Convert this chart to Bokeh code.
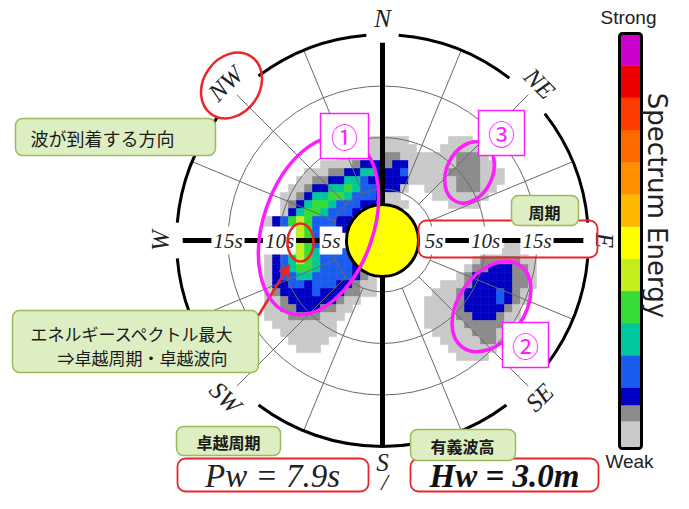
import math
from bokeh.plotting import figure
from bokeh.models import Range1d, BoxAnnotation, Label, Arrow, NormalHead
from bokeh.embed import file_html
from bokeh.resources import INLINE
from bokeh.core.properties import value

# ---------------- data ----------------
# colour scale of spectrum energy, weak -> strong
CBAR_COLORS = ["#c9c9c9", "#8c8c8c", "#0000c4", "#1a5cf0", "#00c89c", "#36dc36",
               "#c4ee1e", "#ffff00", "#ffb800", "#ff9000", "#ff6a00", "#ff3c00",
               "#ee0000", "#cc00cc"]
CBAR_SPAN = [0.85, 0.5, 0.55, 1, 1, 1, 1, 1, 1, 1, 1, 1, 1, 1]
CBAR_TOP_LABEL = "Strong"
CBAR_BOTTOM_LABEL = "Weak"
CBAR_TITLE = "Spectrum Energy"

# energy level codes used in the spectrum cells (a = weakest)
LEVEL_CODES = "abcdefg"

# spectrum cells: (row, first column, level codes)
SPEC_MAIN = [
    (1, 14, "aaaaa"),
    (2, 12, "aaaaaaaa"),
    (3, 10, "aaaaaabbaa"),
    (4, 8, "aaaabcccbcca"),
    (5, 6, "aaabbcceecccda"),
    (6, 5, "aabbcceedccccca"),
    (7, 4, "aabcceefeddccca"),
    (8, 3, "aabceeffedddcaa"),
    (9, 3, "abceffedddcc"),
    (9, 16, "aaa"),
    (10, 3, "aceffedddc"),
    (11, 1, "acdfgfdddcc"),
    (12, 1, "acdfgfdddcc"),
    (13, 1, "acdfgfddd"),
    (14, 1, "acdfgfddd"),
    (15, 1, "acdfgfeddddc"),
    (16, 1, "acdegfeddddca"),
    (17, 1, "acdeffeddddcba"),
    (18, 1, "acddeedddddcba"),
    (19, 1, "accddcdddccbaa"),
    (20, 1, "abccccdcccbbaa"),
    (21, 1, "aabccccccbaa"),
    (22, 1, "aabbcccbbaa"),
    (23, 1, "aaabbbbaaa"),
    (24, 2, "aaaaaaaa"),
    (25, 3, "aaaaaaa"),
    (26, 4, "aaaaa"),
    (27, 5, "aaa"),
]
SPEC_NE = [
    (1, 24, "aaa"),
    (2, 23, "aaaaa"),
    (3, 20, "aaaaabbba"),
    (4, 20, "aaaaabbbaa"),
    (5, 20, "aaaabbbbaaa"),
    (6, 20, "aaaaabbbaaa"),
    (7, 21, "aaaabbbaa"),
    (8, 22, "aaaaaaa"),
    (9, 24, "aaaa"),
]
SPEC_SE = [
    (14, 31, "aa"),
    (15, 28, "aaaaaa"),
    (16, 27, "abbbbbaa"),
    (17, 26, "abbcccbba"),
    (18, 25, "abcccccbba"),
    (19, 23, "aaabcccccbba"),
    (20, 22, "aaabccccdcba"),
    (21, 21, "aaaabccccdcba"),
    (22, 21, "aaaabcccccba"),
    (23, 21, "aaaabbcccbaa"),
    (24, 21, "aaaaabbbbba"),
    (25, 22, "aaaaabbbaa"),
    (26, 23, "aaaaabba"),
    (27, 24, "aaaaaa"),
    (28, 25, "aaaa"),
]

PERIOD_TICKS = [5, 10, 15]
PERIOD_LABELS = ["5s", "10s", "15s"]
PERIOD_MAX = 20
DIR_NAMES = ["N", "NE", "E", "SE", "S", "SW", "W", "NW"]
DIR_BEARINGS = [0, 45, 90, 135, 180, 225, 270, 315]
GRID_BEARINGS = [22.5, 45, 67.5, 112.5, 135, 157.5, 202.5, 225, 247.5, 292.5, 315, 337.5]
PEAK_PERIOD = 7.9
SIG_HEIGHT = 3.0

# ---------------- layout helpers ----------------
H = 509


def Y(y):
    return H - y


CX, CY = 382, Y(240)
PX_PER_S = 10.3


def R(t):
    return PX_PER_S * t


CELL, GX0, GY0 = 8, 256, 128
JP = "Noto Sans CJK JP"
SERIF = "Liberation Serif"
MAG = "#ff1cff"
RED = "#e8262a"

p = figure(width=673, height=493, x_range=Range1d(0, 673), y_range=Range1d(16, 509),
           output_backend="svg", toolbar_location=None, min_border=0,
           x_axis_type=None, y_axis_type=None)
p.grid.visible = False
p.outline_line_color = None
p.background_fill_color = "white"
p.border_fill_color = "white"

# ---- spectrum cells ----
xs, ys, cs = [], [], []
for blob in (SPEC_MAIN, SPEC_NE, SPEC_SE):
    for row, col0, codes in blob:
        for k, ch in enumerate(codes):
            lvl = LEVEL_CODES.index(ch)
            xs.append(GX0 + (col0 + k + 0.5) * CELL)
            ys.append(Y(GY0 + (row + 0.5) * CELL))
            cs.append(CBAR_COLORS[lvl])
p.rect(xs, ys, width=CELL, height=CELL, fill_color=cs, line_color=cs, line_width=0.6)

# ---- grid rings and radial lines ----
p.circle(x=[CX] * len(PERIOD_TICKS), y=[CY] * len(PERIOD_TICKS),
         radius=[R(t) for t in PERIOD_TICKS], fill_color=None,
         line_color="#6a6a6a", line_width=1)
b = [math.radians(v) for v in GRID_BEARINGS]
p.segment(x0=[CX + R(PERIOD_TICKS[0]) * math.sin(v) for v in b],
          y0=[CY + R(PERIOD_TICKS[0]) * math.cos(v) for v in b],
          x1=[CX + R(PERIOD_MAX) * math.sin(v) for v in b],
          y1=[CY + R(PERIOD_MAX) * math.cos(v) for v in b],
          line_color="#6a6a6a", line_width=1)

# ---- outer ring with gaps at compass labels ----
gap = {0: 4.5, 45: 7, 90: 5, 135: 8, 225: 8, 270: 5, 315: 8}
gb = sorted(gap)
starts, ends = [], []
for i, g0 in enumerate(gb):
    g1 = gb[(i + 1) % len(gb)]
    if g1 <= g0:
        g1 += 360
    b_from = g0 + gap[g0]
    b_to = g1 - gap[g1 % 360]
    starts.append(math.radians(90 - b_to))
    ends.append(math.radians(90 - b_from))
p.arc(x=[CX] * len(starts), y=[CY] * len(starts), radius=R(PERIOD_MAX),
      start_angle=starts, end_angle=ends, line_color="black", line_width=3)

# ---- N-S and W-E axes ----
p.segment(x0=[CX], y0=[CY + R(19.2)], x1=[CX], y1=[CY - R(19.9)],
          line_color="black", line_width=5)
p.segment(x0=[CX - R(19.4), CX + R(4.5)], y0=[CY, CY],
          x1=[CX - R(4.5), CX + R(19.5)], y1=[CY, CY],
          line_color="black", line_width=5)

# ---- yellow centre ----
p.circle(x=[CX], y=[CY], radius=36, fill_color="#ffff00", line_color="black", line_width=3)

# ---- compass labels ----
lx, ly, la = [], [], []
for name, brg in zip(DIR_NAMES, DIR_BEARINGS):
    rb = math.radians(brg)
    lx.append(CX + R(21.55) * math.sin(rb))
    ly.append(CY + R(21.55) * math.cos(rb))
    if 90 < brg < 270:
        la.append(math.radians(180 - brg))
    else:
        la.append(math.radians(-brg))
p.text(lx, ly, text=DIR_NAMES, angle=la, text_font=value(SERIF), text_font_style="italic",
       text_font_size="25px", text_align="center", text_baseline="middle", text_color="#222222")
p.text([CX + 2], [Y(481)], text=["/"], text_font=value(SERIF), text_font_style="italic",
       text_font_size="24px", text_align="center", text_baseline="middle", text_color="#222222")

# ---- period labels ----
for side in (-1, 1):
    for t, lab in zip(PERIOD_TICKS, PERIOD_LABELS):
        p.add_layout(Label(x=CX + side * R(t), y=CY, text=lab, text_font=SERIF,
                           text_font_style="italic", text_font_size="21px",
                           text_align="center", text_baseline="middle",
                           text_color="#222222", background_fill_color="white",
                           padding=2))

# ---- colour bar ----
tot = sum(CBAR_SPAN)
bar_top, bar_bot = Y(33), Y(448)
acc = 0.0
qb, qt = [], []
for s in CBAR_SPAN:
    qb.append(bar_bot + (bar_top - bar_bot) * acc / tot)
    acc += s
    qt.append(bar_bot + (bar_top - bar_bot) * acc / tot)
p.quad(left=620, right=640, bottom=qb, top=qt, fill_color=CBAR_COLORS,
       line_color=CBAR_COLORS, line_width=0.5)
p.add_layout(BoxAnnotation(left=619, right=641, bottom=bar_bot, top=bar_top,
                           fill_alpha=0, line_color="black", line_alpha=1,
                           line_width=3, border_radius=3))
p.add_layout(Label(x=628, y=Y(17), text=CBAR_TOP_LABEL, text_font="Liberation Sans",
                   text_font_size="19px", text_align="center", text_baseline="middle",
                   text_color="#222222"))
p.add_layout(Label(x=629, y=Y(461), text=CBAR_BOTTOM_LABEL, text_font="Liberation Sans",
                   text_font_size="19px", text_align="center", text_baseline="middle",
                   text_color="#222222"))
p.add_layout(Label(x=656, y=Y(205), text=CBAR_TITLE, angle=-math.pi / 2,
                   text_font="DejaVu Sans", text_font_size="26px", text_align="center",
                   text_baseline="middle", text_color="#222222"))

# ---- red boxes ----
def red_box(l, r, t, bt, fill=None):
    p.add_layout(BoxAnnotation(left=l, right=r, top=Y(t), bottom=Y(bt),
                               fill_color=fill if fill else "white",
                               fill_alpha=1 if fill else 0,
                               line_color=RED, line_alpha=1, line_width=1.8,
                               border_radius=8))


red_box(418, 597, 220, 257)
red_box(177, 368, 458, 491, "white")
red_box(410, 598, 458, 491, "white")
p.add_layout(Label(x=272, y=Y(475), text=f"Pw = {PEAK_PERIOD}s", text_font=SERIF,
                   text_font_style="italic", text_font_size="33px", text_align="center",
                   text_baseline="middle", text_color="#222222"))
p.add_layout(Label(x=504, y=Y(475), text=f"Hw = {SIG_HEIGHT:.1f}m", text_font=SERIF,
                   text_font_style="bold italic", text_font_size="33px", text_align="center",
                   text_baseline="middle", text_color="#111111"))

# ---- green call-out boxes ----
def green_box(l, r, t, bt):
    p.add_layout(BoxAnnotation(left=l, right=r, top=Y(t), bottom=Y(bt),
                               fill_color="#ddeec2", fill_alpha=1, line_color="#9bbb59",
                               line_alpha=1, line_width=1.5, border_radius=7))


def jp_label(x, y, txt, size="17px", align="left", bold=False):
    p.add_layout(Label(x=x, y=Y(y), text=txt, text_font=JP, text_font_size=size,
                       text_font_style="bold" if bold else "normal",
                       text_align=align, text_baseline="middle", text_color="#1a1a1a"))


green_box(15, 215, 118, 155)
jp_label(30, 137, "波が到着する方向", "18px")
green_box(12, 258, 310, 372)
jp_label(30, 333, "エネルギースペクトル最大", "17px")
jp_label(57, 357, "⇒卓越周期・卓越波向", "17px")
green_box(511, 578, 195, 225)
jp_label(544, 211, "周期", "16px", "center", True)
green_box(176, 280, 426, 455)
jp_label(228, 441, "卓越周期", "16px", "center", True)
green_box(410, 515, 429, 460)
jp_label(462, 445, "有義波高", "16px", "center", True)

p.add_layout(Arrow(end=NormalHead(size=11, fill_color=RED, line_color=RED),
                   x_start=258, y_start=Y(315), x_end=289, y_end=Y(264),
                   line_color=RED, line_width=2.5))

# ---- highlight ellipses and number boxes ----
p.ellipse(x=[318, 491, 469], y=[Y(225), Y(306), Y(172)], width=[185, 100, 64],
          height=[110, 66, 46], angle=[71, 55, 65], angle_units="deg",
          fill_color=None, line_color=MAG, line_width=3.5, level="overlay")
p.ellipse(x=[231, 300], y=[Y(85), Y(242)], width=[70, 26], height=[56, 38],
          angle=[55, 0], angle_units="deg", fill_color=None, line_color=RED,
          line_width=2.5, level="overlay")
p.rect(x=[344, 501, 525], y=[Y(135.5), Y(132.5), Y(344.5)], width=[48, 46, 46], height=45,
       fill_color="white", line_color=MAG, line_width=1.5, level="overlay")
p.text(x=[344, 501, 525], y=[Y(135.5), Y(132.5), Y(344.5)], text=["①", "③", "②"],
       text_font=value(JP), text_font_size="27px", text_color=MAG,
       text_align="center", text_baseline="middle", level="overlay")

open("out.html", "w").write(file_html(p, INLINE))
